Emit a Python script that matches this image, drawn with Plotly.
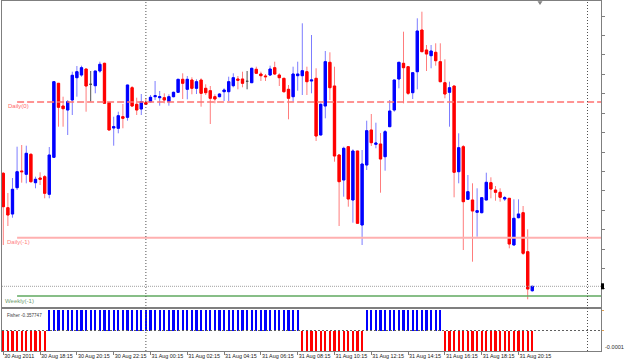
import numpy as np
import pandas as pd
import plotly.graph_objects as go

# ---------------- data ----------------
first_bar = "2011-08-30 16:15"

opens = [
    1.45267, 1.44923, 1.44860, 1.45123, 1.45290, 1.45257, 1.45457, 1.45173, 1.45220, 1.45233,
    1.45057, 1.45427, 1.46167, 1.45940, 1.45900, 1.46000, 1.46223, 1.46250, 1.46310, 1.46157,
    1.46143, 1.46290, 1.46367, 1.45973, 1.45720, 1.45717, 1.45833, 1.45827, 1.46123, 1.45957,
    1.45910, 1.45973, 1.45983, 1.46033, 1.46023, 1.46023, 1.45983, 1.46033, 1.46077, 1.46207,
    1.46107, 1.46200, 1.46117, 1.46200, 1.46117, 1.46093, 1.46033, 1.46033, 1.46083, 1.46083,
    1.46143, 1.46210, 1.46210, 1.46187, 1.46173, 1.46307, 1.46260, 1.46240, 1.46250, 1.46323,
    1.46250, 1.46217, 1.46107, 1.46033, 1.46243, 1.46243, 1.46283, 1.46190, 1.46217, 1.45650,
    1.45940, 1.46377, 1.46140, 1.45450, 1.45200, 1.45533, 1.45000, 1.45490, 1.44750, 1.45350,
    1.45700, 1.45557, 1.45560, 1.45433, 1.45733, 1.45900, 1.46210, 1.46367, 1.46333, 1.46073,
    1.46283, 1.46700, 1.46500, 1.46443, 1.46477, 1.46383, 1.46173, 1.46077, 1.46140, 1.45283,
    1.45533, 1.45007, 1.45000, 1.44877, 1.44873, 1.45000, 1.45173, 1.45100, 1.45077, 1.45010,
    1.45017, 1.44550, 1.44823, 1.44873, 1.44483, 1.44093,
]
highs = [
    1.45280, 1.45070, 1.45220, 1.45533, 1.45550, 1.45543, 1.45467, 1.45233, 1.45277, 1.45250,
    1.45530, 1.46183, 1.46170, 1.46033, 1.46000, 1.46283, 1.46340, 1.46343, 1.46310, 1.46290,
    1.46290, 1.46383, 1.46373, 1.45973, 1.45833, 1.45883, 1.45960, 1.46150, 1.46140, 1.46023,
    1.46060, 1.46017, 1.46050, 1.46190, 1.46090, 1.46067, 1.46057, 1.46083, 1.46207, 1.46267,
    1.46240, 1.46227, 1.46207, 1.46217, 1.46157, 1.46140, 1.46057, 1.46067, 1.46117, 1.46233,
    1.46267, 1.46240, 1.46283, 1.46290, 1.46323, 1.46333, 1.46283, 1.46260, 1.46343, 1.46383,
    1.46267, 1.46217, 1.46150, 1.46333, 1.46383, 1.46767, 1.46333, 1.46650, 1.46317, 1.45967,
    1.46490, 1.46477, 1.46333, 1.45460, 1.45533, 1.45540, 1.45507, 1.45490, 1.45500, 1.45793,
    1.45860, 1.45773, 1.45670, 1.45700, 1.46000, 1.46200, 1.46377, 1.46683, 1.46340, 1.46273,
    1.46817, 1.46883, 1.46550, 1.46550, 1.46567, 1.46567, 1.46407, 1.46183, 1.46140, 1.45667,
    1.45550, 1.45250, 1.45167, 1.45117, 1.45030, 1.45273, 1.45227, 1.45140, 1.45117, 1.45040,
    1.45017, 1.45007, 1.45007, 1.44940, 1.44707, 1.44143,
]
lows = [
    1.44550, 1.44740, 1.44823, 1.45100, 1.45173, 1.45167, 1.45173, 1.45117, 1.45150, 1.45017,
    1.45017, 1.45420, 1.45733, 1.45733, 1.45650, 1.45850, 1.46033, 1.46233, 1.45883, 1.45983,
    1.46067, 1.46273, 1.45967, 1.45700, 1.45543, 1.45667, 1.45717, 1.45793, 1.45933, 1.45850,
    1.45850, 1.45950, 1.45973, 1.46000, 1.45943, 1.45967, 1.45943, 1.46027, 1.46073, 1.46010,
    1.46007, 1.46057, 1.46060, 1.45933, 1.46050, 1.45760, 1.45967, 1.46027, 1.45990, 1.45990,
    1.46127, 1.46107, 1.46127, 1.46107, 1.46173, 1.46260, 1.46190, 1.46190, 1.46240, 1.46250,
    1.46140, 1.46073, 1.45807, 1.45983, 1.46093, 1.46050, 1.46050, 1.46067, 1.45590, 1.45650,
    1.45817, 1.46000, 1.45383, 1.44740, 1.45033, 1.44933, 1.44773, 1.44767, 1.44550, 1.45300,
    1.45540, 1.45517, 1.45073, 1.45293, 1.45733, 1.45883, 1.46117, 1.45967, 1.46050, 1.46010,
    1.46107, 1.46483, 1.46290, 1.46317, 1.46343, 1.46177, 1.46017, 1.45733, 1.45027, 1.45167,
    1.44500, 1.45000, 1.44383, 1.44633, 1.44867, 1.45000, 1.45017, 1.44993, 1.44983, 1.44990,
    1.44517, 1.44550, 1.44817, 1.44450, 1.44007, 1.44083,
]
closes = [
    1.44933, 1.44850, 1.45107, 1.45283, 1.45283, 1.45467, 1.45183, 1.45207, 1.45207, 1.45067,
    1.45450, 1.46183, 1.45927, 1.45913, 1.45983, 1.46247, 1.46283, 1.46323, 1.46140, 1.46157,
    1.46290, 1.46357, 1.45967, 1.45700, 1.45733, 1.45843, 1.45817, 1.46150, 1.45940, 1.45900,
    1.45983, 1.45957, 1.46027, 1.46043, 1.46033, 1.46000, 1.46033, 1.46077, 1.46207, 1.46167,
    1.46207, 1.46117, 1.46183, 1.46067, 1.46073, 1.46017, 1.46010, 1.46060, 1.46100, 1.46183,
    1.46223, 1.46197, 1.46167, 1.46187, 1.46317, 1.46267, 1.46243, 1.46233, 1.46310, 1.46260,
    1.46223, 1.46083, 1.46017, 1.46260, 1.46260, 1.46293, 1.46183, 1.46200, 1.45640, 1.45957,
    1.46383, 1.46123, 1.45440, 1.45183, 1.45517, 1.45010, 1.45490, 1.44767, 1.45360, 1.45693,
    1.45573, 1.45570, 1.45410, 1.45683, 1.45890, 1.46200, 1.46377, 1.46323, 1.46067, 1.46273,
    1.46690, 1.46483, 1.46460, 1.46490, 1.46393, 1.46183, 1.46060, 1.46123, 1.45277, 1.45523,
    1.44983, 1.45083, 1.44890, 1.44893, 1.45023, 1.45177, 1.45110, 1.45077, 1.45027, 1.45023,
    1.44560, 1.44817, 1.44860, 1.44467, 1.44110, 1.44137,
]
fisher_hist = [
    -0.0001, -0.0001, -0.0001, -0.0001, -0.0001, -0.0001, -0.0001, -0.0001, -0.0001, -0.0001,
    0.0001, 0.0001, 0.0001, 0.0001, 0.0001, 0.0001, 0.0001, 0.0001, 0.0001, 0.0001,
    0.0001, 0.0001, 0.0001, 0.0001, 0.0001, 0.0001, 0.0001, 0.0001, 0.0001, 0.0001,
    0.0001, 0.0001, 0.0001, 0.0001, 0.0001, 0.0001, 0.0001, 0.0001, 0.0001, 0.0001,
    0.0001, 0.0001, 0.0001, 0.0001, 0.0001, 0.0001, 0.0001, 0.0001, 0.0001, 0.0001,
    0.0001, 0.0001, 0.0001, 0.0001, 0.0001, 0.0001, 0.0001, 0.0001, 0.0001, 0.0001,
    0.0001, 0.0001, 0.0001, 0.0001, 0.0001, -0.0001, -0.0001, -0.0001, -0.0001, -0.0001,
    -0.0001, -0.0001, -0.0001, -0.0001, -0.0001, -0.0001, -0.0001, -0.0001, -0.0001, 0.0001,
    0.0001, 0.0001, 0.0001, 0.0001, 0.0001, 0.0001, 0.0001, 0.0001, 0.0001, 0.0001,
    0.0001, 0.0001, 0.0001, 0.0001, 0.0001, 0.0001, -0.0001, -0.0001, -0.0001, -0.0001,
    -0.0001, -0.0001, -0.0001, -0.0001, -0.0001, -0.0001, -0.0001, -0.0001, -0.0001, -0.0001,
    -0.0001, -0.0001, -0.0001, -0.0001, -0.0001, -0.0001,
]
fisher_value = "-0.357747"

daily_open_level = 1.45980    # Daily(0)
prev_day_level = 1.44623      # Daily(-1)
prev_week_level = 1.44040     # Weekly(-1)
level_start = "2011-08-30 17:00"

day_separators = ["2011-08-31 00:00", "2011-09-01 00:00"]

tick_times = [
    "2011-08-30 16:15", "2011-08-30 18:15", "2011-08-30 20:15", "2011-08-30 22:15",
    "2011-08-31 00:15", "2011-08-31 02:15", "2011-08-31 04:15", "2011-08-31 06:15",
    "2011-08-31 08:15", "2011-08-31 10:15", "2011-08-31 12:15", "2011-08-31 14:15",
    "2011-08-31 16:15", "2011-08-31 18:15", "2011-08-31 20:15",
]
tick_labels = [
    "30 Aug 2011", "30 Aug 18:15", "30 Aug 20:15", "30 Aug 22:15",
    "31 Aug 00:15", "31 Aug 02:15", "31 Aug 04:15", "31 Aug 06:15",
    "31 Aug 08:15", "31 Aug 10:15", "31 Aug 12:15", "31 Aug 14:15",
    "31 Aug 16:15", "31 Aug 18:15", "31 Aug 20:15",
]

# ---------------- styling ----------------
W, H = 625, 362
L_M, R_M, T_M, B_M = 2, 24, 1, 11
PW, PH = W - L_M - R_M, H - T_M - B_M
FONT = "Liberation Sans"
UP, DN = "#0000FF", "#FF0000"
UP_W, DN_W = "#7C7CFF", "#FF7C7C"
AX = "#7F7F7F"

def px_x(x):
    return (x - L_M) / PW

def px_y(y):
    return (H - B_M - y) / PH

x_range = ["2011-08-30 16:10:48", "2011-09-01 00:44:00"]
y_range = [1.43930, 1.46990]

o = np.array(opens); h = np.array(highs); l = np.array(lows); c = np.array(closes)
t = pd.date_range(first_bar, periods=len(opens), freq="15min")
doji = o == c
reg = ~doji
body_hi = np.maximum(o, c)
body_lo = np.minimum(o, c)

fig = go.Figure()

# wicks (full candles, lighter)
fig.add_trace(go.Candlestick(
    x=t[reg], open=o[reg], high=h[reg], low=l[reg], close=c[reg],
    increasing=dict(line=dict(color=UP_W, width=1), fillcolor=UP_W),
    decreasing=dict(line=dict(color=DN_W, width=1), fillcolor=DN_W),
    whiskerwidth=0, hoverinfo="skip", showlegend=False, xaxis="x", yaxis="y"))
# bodies
fig.add_trace(go.Candlestick(
    x=t[reg], open=o[reg], high=body_hi[reg], low=body_lo[reg], close=c[reg],
    increasing=dict(line=dict(color=UP, width=1), fillcolor=UP),
    decreasing=dict(line=dict(color=DN, width=1), fillcolor=DN),
    whiskerwidth=0, hoverinfo="skip", showlegend=False, xaxis="x", yaxis="y"))
# doji
fig.add_trace(go.Candlestick(
    x=t[doji], open=o[doji], high=h[doji], low=l[doji], close=c[doji],
    increasing=dict(line=dict(color="#505050", width=1), fillcolor="#505050"),
    decreasing=dict(line=dict(color="#505050", width=1), fillcolor="#505050"),
    whiskerwidth=0, hoverinfo="skip", showlegend=False, xaxis="x", yaxis="y"))

# Fisher histogram
fh = np.array(fisher_hist)
fig.add_trace(go.Bar(
    x=t, y=fh, width=405000,
    marker=dict(color=np.where(fh > 0, UP, DN).tolist(), line=dict(width=0)),
    hoverinfo="skip", showlegend=False, xaxis="x2", yaxis="y2"))

shapes = []
# level lines
shapes.append(dict(type="line", xref="x", yref="y", x0=level_start, x1=x_range[1],
                   y0=daily_open_level, y1=daily_open_level,
                   line=dict(color="#FF7070", width=1.5, dash="7px,3px")))
shapes.append(dict(type="line", xref="x", yref="y", x0=level_start, x1=x_range[1],
                   y0=prev_day_level, y1=prev_day_level,
                   line=dict(color="#FFB0B0", width=2)))
shapes.append(dict(type="line", xref="x", yref="y", x0=level_start, x1=x_range[1],
                   y0=prev_week_level, y1=prev_week_level,
                   line=dict(color="#5FA85F", width=1.5)))
# bid line
shapes.append(dict(type="line", xref="x", yref="y", x0=x_range[0], x1=x_range[1],
                   y0=closes[-1], y1=closes[-1],
                   line=dict(color="#A0A0A0", width=1, dash="1px,1px")))
# day separators across both panels
for d in day_separators:
    shapes.append(dict(type="line", xref="x", yref="paper", x0=d, x1=d, y0=0, y1=1,
                       line=dict(color="#505050", width=1, dash="1px,2px")))
# zero line in Fisher panel
shapes.append(dict(type="line", xref="x2", yref="y2", x0=x_range[0], x1=x_range[1],
                   y0=0, y1=0, line=dict(color="#606060", width=1, dash="2px,2px")))
# bid marker on price scale
shapes.append(dict(type="rect", xref="paper", yref="y", x0=1.0, x1=1.0 + 3 / PW,
                   y0=closes[-1] - 0.00030, y1=closes[-1] + 0.00030,
                   fillcolor="#000000", line=dict(width=0)))
# chart shift marker
shapes.append(dict(type="path", xref="paper", yref="paper",
                   path=f"M {px_x(537.5)},{px_y(1.2)} L {px_x(542.5)},{px_y(1.2)} L {px_x(540)},{px_y(5)} Z",
                   fillcolor="#808080", line=dict(width=0)))

annotations = [
    dict(text="Daily(0)", x=px_x(5.5), y=px_y(106), xref="paper", yref="paper",
         xanchor="left", yanchor="middle", showarrow=False,
         font=dict(family=FONT, size=6, color="#FF6A6A")),
    dict(text="Daily(-1)", x=px_x(4.5), y=px_y(241.5), xref="paper", yref="paper",
         xanchor="left", yanchor="middle", showarrow=False,
         font=dict(family=FONT, size=6, color="#FF8080")),
    dict(text="Weekly(-1)", x=px_x(2.5), y=px_y(300.5), xref="paper", yref="paper",
         xanchor="left", yanchor="middle", showarrow=False,
         font=dict(family=FONT, size=6, color="#709C70")),
    dict(text="Fisher " + fisher_value, x=px_x(4.5), y=px_y(315), xref="paper", yref="paper",
         xanchor="left", yanchor="middle", showarrow=False,
         font=dict(family=FONT, size=4.6, color="#404040")),
    dict(text="-0.0001", x=px_x(603), y=px_y(346.7), xref="paper", yref="paper",
         xanchor="left", yanchor="middle", showarrow=False,
         font=dict(family=FONT, size=5.6, color="#303030")),
]

main_bottom = px_y(307)
sub_top = px_y(309)

fig.update_layout(
    width=W, height=H,
    margin=dict(l=L_M, r=R_M, t=T_M, b=B_M, pad=0, autoexpand=False),
    paper_bgcolor="#FFFFFF", plot_bgcolor="#FFFFFF",
    showlegend=False, hovermode=False,
    font=dict(family=FONT, size=6, color="#303030"),
    shapes=shapes, annotations=annotations,
    xaxis=dict(domain=[0, 1], anchor="y", range=x_range, type="date",
               showticklabels=False, ticks="", showgrid=False, zeroline=False,
               showline=True, mirror=True, linecolor=AX, linewidth=1,
               automargin=False, rangeslider=dict(visible=False)),
    yaxis=dict(domain=[main_bottom, 1], anchor="x", range=y_range, side="right",
               tick0=1.4684, dtick=0.001944, ticks="outside", ticklen=3, tickcolor=AX,
               showticklabels=False, showgrid=False, zeroline=False, automargin=False,
               showline=True, mirror=True, linecolor=AX, linewidth=1),
    xaxis2=dict(domain=[0, 1], anchor="y2", matches="x", range=x_range, type="date",
                tickmode="array", tickvals=tick_times, ticktext=tick_labels,
                tickangle=0, automargin=False,
                ticks="outside", ticklen=3, tickcolor=AX, ticklabelposition="outside right",
                tickfont=dict(family=FONT, size=5.4, color="#202020"),
                showgrid=False, zeroline=False,
                showline=True, mirror=True, linecolor=AX, linewidth=1,
                rangeslider=dict(visible=False)),
    yaxis2=dict(domain=[0, sub_top], anchor="x2", range=[-0.0001, 0.000105], side="right",
                tickmode="array", tickvals=[0.0001, 0], ticks="outside", ticklen=2,
                tickcolor="#E0A050", showticklabels=False, showgrid=False, zeroline=False,
                automargin=False,
                showline=True, mirror=True, linecolor=AX, linewidth=1),
    bargap=0,
)

fig.write_html("out.html")
